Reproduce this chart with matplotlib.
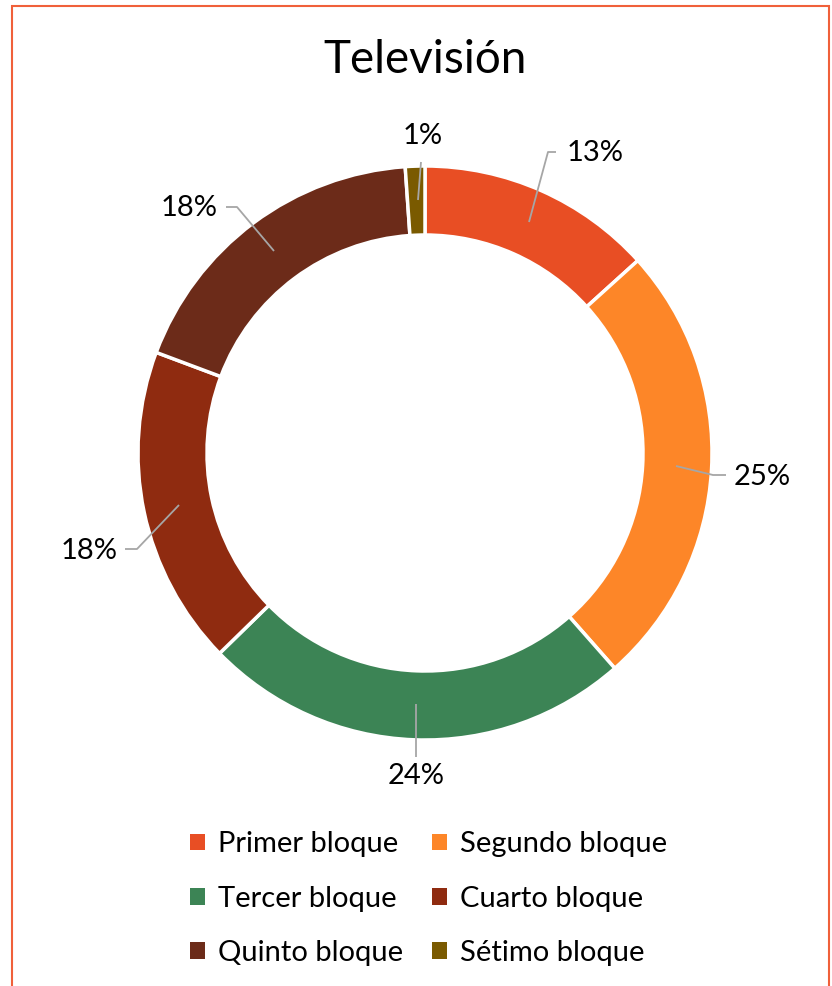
import matplotlib.pyplot as plt
from matplotlib.patches import Rectangle, Patch

plt.rcParams['font.family'] = ['Lato', 'DejaVu Sans']

# datos (porcentajes)
categorias = ['Primer bloque', 'Segundo bloque', 'Tercer bloque',
              'Cuarto bloque', 'Quinto bloque', 'Sétimo bloque']
valores = [13.3, 25.2, 24.2, 18.0, 18.2, 1.1]
etiquetas = ['13%', '25%', '24%', '18%', '18%', '1%']
colores = ['#E84E24', '#FD8628', '#3C8455', '#8F2B10', '#6C2B19', '#7A5A00']

W, H = 832, 986
fig = plt.figure(figsize=(W / 100, H / 100), dpi=100)
ax = fig.add_axes([0, 0, 1, 1])
ax.set_xlim(0, W)
ax.set_ylim(0, H)
ax.axis('off')

# borde del area del grafico
ax.add_patch(Rectangle((12, -10), 817, H - 6 + 10, fill=False,
                       edgecolor='#F0603A', linewidth=1.5))

cx, cy = 425, H - 453
r_out, ancho = 287, 69
wedges, _ = ax.pie(valores, colors=colores, startangle=90, counterclock=False,
                   center=(cx, cy), radius=r_out, normalize=True,
                   wedgeprops=dict(width=ancho, edgecolor='white', linewidth=2.5))
ax.set_xlim(0, W)
ax.set_ylim(0, H)
ax.set_aspect('equal')

ax.text(cx, H - 60, 'Televisión', ha='center', va='center', fontsize=33)

# lineas guia: (inicio, codo, fin) y posicion del texto
guias = [
    [(529, 222), (548, 152), (556, 152), (595, 153)],
    [(676, 466), (713, 475), (726, 475), (762, 477)],
    [(416, 704), (416, 757), (416, 757), (416, 776)],
    [(179, 505), (137, 549), (125, 549), (89, 551)],
    [(274, 251), (237, 207), (226, 207), (189, 208)],
    [(418, 200), (421, 162), (421, 162), (423, 136)],
]
for g, et in zip(guias, etiquetas):
    xs = [p[0] for p in g[:3]]
    ys = [H - p[1] for p in g[:3]]
    ax.plot(xs, ys, color='#A6A6A6', linewidth=1.3, solid_capstyle='butt')
    ax.text(g[3][0], H - g[3][1], et, ha='center', va='center', fontsize=21)

orden = [0, 2, 4, 1, 3, 5]
handles = [Patch(facecolor=colores[i], label=categorias[i]) for i in orden]
fig.legend(handles=handles, ncol=2, loc='upper center',
           bbox_to_anchor=(0.515, 1 - 805 / H), frameon=False, fontsize=21,
           handlelength=0.5, handleheight=0.5, handletextpad=0.45,
           columnspacing=1.0, labelspacing=0.97)

fig.savefig('out.png', dpi=100)
